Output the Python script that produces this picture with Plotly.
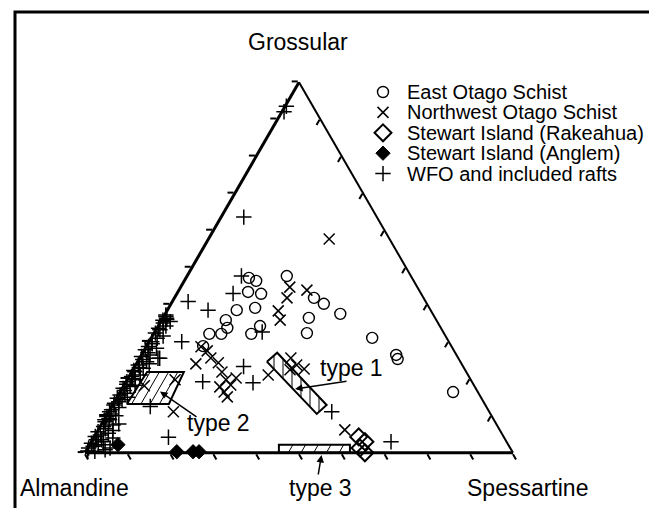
import math
import plotly.graph_objects as go

# ---------------- data (Grossular %, Spessartine %; Almandine = remainder) ----------------
eo_grs = [47.2, 46.4, 47.7, 43.4, 42.9, 41.8, 40.2, 38.5, 39.1, 37.5, 36.4, 35.8, 33.7, 34.2,
          32.1, 32.1, 32.1, 32.3, 28.8, 31.0, 26.4, 25.3, 16.4]
eo_sps = [14.7, 16.8, 23.3, 16.4, 19.7, 32.6, 35.7, 16.2, 20.2, 40.9, 34.1, 15.0, 16.4, 23.8,
          13.0, 15.8, 22.8, 35.7, 13.2, 51.6, 59.5, 60.4, 77.8]

nw_grs = [57.7, 44.7, 41.8, 43.9, 38.3, 35.8, 28.6, 24.0, 25.6, 24.3, 21.8, 19.7, 17.8, 18.3,
          20.2, 16.4, 15.1, 21.0, 25.6, 23.7, 22.6, 22.4, 6.2, 19.7, 18.1, 11.1, 27.5]
nw_sps = [28.2, 25.5, 26.3, 29.9, 26.0, 27.7, 12.8, 13.9, 16.6, 19.0, 21.1, 23.1, 22.6, 24.9,
          25.2, 24.3, 25.7, 32.3, 35.3, 37.6, 39.9, 36.7, 57.6, 11.2, 4.8, 15.1, 14.8]

rk_grs = [4.3, 3.0, 1.3, 0.0]
rk_sps = [61.8, 63.9, 63.6, 65.4]

an_grs = [2.2, 0.3, 0.3, 0.3]
an_sps = [6.6, 21.3, 25.1, 26.5]

wfo_grs = [93.5, 92.0, 63.6, 47.7, 43.0, 40.8, 38.5, 30.0, 25.5, 23.3, 19.2, 18.9, 12.5, 4.2,
           32.6, 11.1, 3.0,
           36.0, 35.4, 35.0, 33.2, 32.3, 30.9, 30.0, 28.7, 27.8, 26.4, 26.0, 24.6, 23.7, 22.8,
           21.9, 21.0, 20.6, 19.7, 19.2, 17.9, 17.4, 16.1, 15.6, 14.7, 14.3, 13.4, 12.9, 11.6,
           11.1, 9.8, 8.9, 7.5, 7.1, 5.7, 5.3, 4.4, 3.5, 2.6, 2.2, 1.3, 0.4, 0.8,
           8.4, 8.9, 3.5, 2.2, 1.3, 37.2, 36.3, 35.8, 25.5,
           36.8, 34.2, 33.6, 31.5, 29.4, 28.2, 27.0, 25.2, 24.0, 23.0, 22.2, 20.0, 18.5, 18.2,
           16.8, 15.0, 13.8, 12.2, 10.5, 10.0, 9.2, 6.5, 6.0, 4.8, 3.0, 1.8, 0.5, 7.8, 4.0]
wfo_sps = [0.3, 0.5, 5.3, 12.7, 13.1, 3.7, 9.5, 7.6, 4.3, 25.4, 17.9, 29.8, 9.0, 17.4,
           25.1, 52.1, 70.0,
           1.1, 2.2, 0.8, 0.9, 0.3, 1.4, 0.6, 0.5, 0.2, 2.0, 0.2, 2.1, 0.6, 2.2,
           0.7, 2.4, 0.6, 1.9, 0.2, 1.6, 0.2, 1.3, 0.4, 0.2, 1.5, 0.2, 0.3, 0.4,
           0.2, 0.2, 0.2, 2.8, 0.8, 0.2, 2.8, 0.2, 2.1, 0.2, 2.0, 0.2, 2.1, 4.3,
           0.5, 1.3, 0.9, 3.2, 5.2, 0.3, 0.9, 0.3, 4.7,
           0.5, 1.8, 0.4, 2.5, 1.0, 2.6, 1.2, 0.9, 3.0, 1.2, 0.3, 1.1, 0.5, 2.6,
           0.8, 2.4, 1.0, 1.8, 0.8, 2.2, 1.0, 1.5, 3.5, 1.2, 2.8, 1.0, 0.4, 4.0, 4.5]

# field outlines (Grossular %, Spessartine %)
type1_grs = [24.6, 27.0, 12.9, 10.5]
type1_sps = [30.2, 31.4, 50.0, 48.9]
type2_grs = [13.2, 21.8, 21.8, 13.2]
type2_sps = [3.2, 3.6, 12.2, 13.0]
type3_grs = [0.0, 2.2, 2.2, 0.0]
type3_sps = [45.3, 44.2, 60.8, 61.9]

legend_labels = ["East Otago Schist", "Northwest Otago Schist", "Stewart Island (Rakeahua)",
                 "Stewart Island (Anglem)", "WFO and included rafts"]

FONT = "Liberation Sans, Arial, Helvetica, sans-serif"
W, H = 657, 508
OFF = 8  # page body margin in the browser
S3 = math.sqrt(3) / 2


def to_xy(a, c):
    return (c + a / 2) / 100.0, a * S3 / 100.0


def to_ac(x, y):
    a = y / S3 * 100.0
    return a, x * 100.0 - a / 2


def hatch(pa, pc, angle_deg, spacing_px, side_px=428.0):
    pts = [to_xy(a, c) for a, c in zip(pa, pc)]
    sp = spacing_px / side_px
    th = math.radians(angle_deg)
    d = (math.cos(th), math.sin(th))
    n = (-d[1], d[0])
    pr = [p[0] * n[0] + p[1] * n[1] for p in pts]
    lo, hi = min(pr), max(pr)
    oa, oc = [], []
    k = math.ceil(lo / sp)
    while k * sp < hi:
        s = k * sp
        ints = []
        for i in range(len(pts)):
            p, q = pts[i], pts[(i + 1) % len(pts)]
            fp = p[0] * n[0] + p[1] * n[1] - s
            fq = q[0] * n[0] + q[1] * n[1] - s
            if fp * fq < 0:
                t = fp / (fp - fq)
                ints.append((p[0] + t * (q[0] - p[0]), p[1] + t * (q[1] - p[1])))
        if len(ints) >= 2:
            ints.sort(key=lambda P: P[0] * d[0] + P[1] * d[1])
            for P in (ints[0], ints[-1]):
                a, c = to_ac(*P)
                oa.append(a)
                oc.append(c)
            oa.append(None)
            oc.append(None)
        k += 1
    return oa, oc


fig = go.Figure()

# hatched fields
for ga, gc, ang, spc in [(type1_grs, type1_sps, 90, 9),
                         (type2_grs, type2_sps, 60, 8),
                         (type3_grs, type3_sps, 60, 11)]:
    ha, hc = hatch(ga, gc, ang, spc)
    fig.add_trace(go.Scatterternary(a=ha, c=hc, mode="lines",
                                    line=dict(color="black", width=1), hoverinfo="skip"))
    fig.add_trace(go.Scatterternary(a=ga + ga[:1], c=gc + gc[:1], mode="lines",
                                    line=dict(color="black", width=2), hoverinfo="skip"))

styles = [
    ("circle-open", 11, 1.4),
    ("x-thin-open", 11, 1.5),
    ("diamond-open", 13, 2),
    ("diamond", 11, 1),
    ("cross-thin-open", 11, 1.5),
]
series = [(eo_grs, eo_sps), (nw_grs, nw_sps), (rk_grs, rk_sps), (an_grs, an_sps), (wfo_grs, wfo_sps)]

for (ga, gc), (sym, sz, lw), name in zip(series, styles, legend_labels):
    fig.add_trace(go.Scatterternary(
        a=ga, c=gc, mode="markers", name=name,
        marker=dict(symbol=sym, size=sz, color="black", line=dict(color="black", width=lw)),
        cliponaxis=False))

# manual legend, laid out on a hidden overlay axis measured in page pixels
leg_x, leg_y0, leg_dy = 383, 92, 20.4
for i, ((sym, sz, lw), name) in enumerate(zip(styles, legend_labels)):
    fig.add_trace(go.Scatter(x=[leg_x], y=[leg_y0 + i * leg_dy], mode="markers",
                             marker=dict(symbol=sym, size=sz, color="black",
                                         line=dict(color="black", width=lw)),
                             xaxis="x", yaxis="y", hoverinfo="skip", cliponaxis=False))
    fig.add_annotation(x=405, y=leg_y0 + i * leg_dy, xref="x", yref="y",
                       text=name, showarrow=False, xanchor="left", yanchor="middle",
                       font=dict(family=FONT, size=20, color="black"))

axis_common = dict(showticklabels=False, showgrid=False, linecolor="black", tickcolor="black",
                   ticklen=6, tickwidth=1.5, dtick=10, title=dict(text=""))

fig.update_layout(
    width=W, height=H, margin=dict(l=0, r=0, t=0, b=0),
    paper_bgcolor="white", plot_bgcolor="rgba(0,0,0,0)", showlegend=False,
    ternary=dict(
        sum=100, bgcolor="white",
        domain=dict(x=[(85 - OFF) / W, (513 - OFF) / W],
                    y=[1 - (453 - OFF) / H, 1 - (82 - OFF) / H]),
        aaxis=dict(axis_common, linewidth=3, ticks="outside"),
        baxis=dict(axis_common, linewidth=3, ticks="outside"),
        caxis=dict(axis_common, linewidth=2, ticks="inside"),
    ),
    xaxis=dict(range=[OFF, W + OFF], visible=False, domain=[0, 1], fixedrange=True),
    yaxis=dict(range=[H + OFF, OFF], visible=False, domain=[0, 1], fixedrange=True),
)

# frame
fig.add_shape(type="rect", xref="x", yref="y", x0=15, x1=653, y0=12, y1=540,
              line=dict(color="black", width=3), layer="above")

labels = [("Grossular", 297.5, 42), ("Almandine", 74, 488), ("Spessartine", 527, 488),
          ("type 1", 351, 368), ("type 2", 218, 423), ("type 3", 320, 488)]
for txt, px, py in labels:
    fig.add_annotation(x=px, y=py, xref="x", yref="y", text=txt,
                       showarrow=False, xanchor="center", yanchor="middle",
                       font=dict(family=FONT, size=23, color="black"))

arrows = [((295, 389), (348, 381)), ((160, 391.5), (198, 418)), ((321.5, 455), (318, 476))]
for (hx, hy), (tx, ty) in arrows:
    fig.add_annotation(x=hx, y=hy, xref="x", yref="y", text="",
                       showarrow=True, ax=tx - hx, ay=ty - hy, arrowhead=2, arrowsize=1,
                       arrowwidth=1.5, arrowcolor="black", standoff=0)

fig.write_html("out.html")
